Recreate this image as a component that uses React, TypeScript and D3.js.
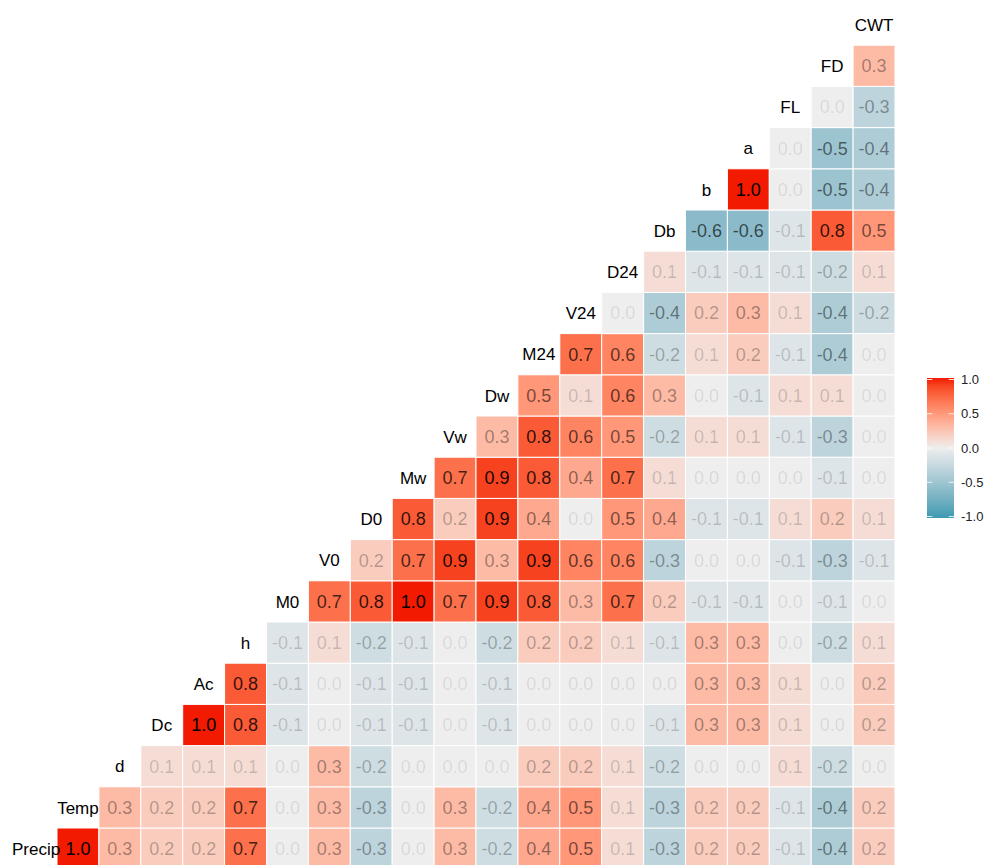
import { useEffect, useRef } from "react";
import * as d3 from "d3";

const variables = [
  "Precip", "Temp", "d", "Dc", "Ac", "h", "M0", "V0", "D0", "Mw", "Vw",
  "Dw", "M24", "V24", "D24", "Db", "b", "a", "FL", "FD", "CWT",
];

// row i: correlations of variables[i] with variables[i + 1], variables[i + 2], ...
const corrRows = [
  [1.0, 0.3, 0.2, 0.2, 0.7, 0.0, 0.3, -0.3, 0.0, 0.3, -0.2, 0.4, 0.5, 0.1, -0.3, 0.2, 0.2, -0.1, -0.4, 0.2],
  [0.3, 0.2, 0.2, 0.7, 0.0, 0.3, -0.3, 0.0, 0.3, -0.2, 0.4, 0.5, 0.1, -0.3, 0.2, 0.2, -0.1, -0.4, 0.2],
  [0.1, 0.1, 0.1, 0.0, 0.3, -0.2, 0.0, 0.0, 0.0, 0.2, 0.2, 0.1, -0.2, 0.0, 0.0, 0.1, -0.2, 0.0],
  [1.0, 0.8, -0.1, 0.0, -0.1, -0.1, 0.0, -0.1, 0.0, 0.0, 0.0, -0.1, 0.3, 0.3, 0.1, 0.0, 0.2],
  [0.8, -0.1, 0.0, -0.1, -0.1, 0.0, -0.1, 0.0, 0.0, 0.0, 0.0, 0.3, 0.3, 0.1, 0.0, 0.2],
  [-0.1, 0.1, -0.2, -0.1, 0.0, -0.2, 0.2, 0.2, 0.1, -0.1, 0.3, 0.3, 0.0, -0.2, 0.1],
  [0.7, 0.8, 1.0, 0.7, 0.9, 0.8, 0.3, 0.7, 0.2, -0.1, -0.1, 0.0, -0.1, 0.0],
  [0.2, 0.7, 0.9, 0.3, 0.9, 0.6, 0.6, -0.3, 0.0, 0.0, -0.1, -0.3, -0.1],
  [0.8, 0.2, 0.9, 0.4, 0.0, 0.5, 0.4, -0.1, -0.1, 0.1, 0.2, 0.1],
  [0.7, 0.9, 0.8, 0.4, 0.7, 0.1, 0.0, 0.0, 0.0, -0.1, 0.0],
  [0.3, 0.8, 0.6, 0.5, -0.2, 0.1, 0.1, -0.1, -0.3, 0.0],
  [0.5, 0.1, 0.6, 0.3, 0.0, -0.1, 0.1, 0.1, 0.0],
  [0.7, 0.6, -0.2, 0.1, 0.2, -0.1, -0.4, 0.0],
  [0.0, -0.4, 0.2, 0.3, 0.1, -0.4, -0.2],
  [0.1, -0.1, -0.1, -0.1, -0.2, 0.1],
  [-0.6, -0.6, -0.1, 0.8, 0.5],
  [1.0, 0.0, -0.5, -0.4],
  [0.0, -0.5, -0.4],
  [0.0, -0.3],
  [0.3],
];

const legendTicks = [1, 0.5, 0, -0.5, -1];

const width = 987;
const height = 865;
const panel = { left: 15.1, right: 895, top: 4, bottom: 869.2 };
const legendBox = { x: 927, y: 378, w: 27, h: 140 };
const font = "'Liberation Sans', Arial, Helvetica, sans-serif";

const CorrHeatmap = () => {
  const svgRef = useRef(null);

  useEffect(() => {
    document.body.style.margin = "0";
    const svg = d3.select(svgRef.current);
    svg.selectAll("*").remove();

    const x = d3.scaleBand().domain(variables).range([panel.left, panel.right]);
    const y = d3.scaleBand().domain(variables).range([panel.bottom, panel.top]);
    const color = d3
      .scaleLinear<string>()
      .domain([-1, 0, 1])
      .range(["#3B9AB2", "#EEEEEE", "#F21A00"])
      .interpolate(d3.interpolateLab);

    const cells = corrRows.flatMap((row, i) =>
      row.map((r, k) => ({ row: variables[i], col: variables[i + k + 1], r }))
    );

    svg
      .append("g")
      .selectAll("rect")
      .data(cells)
      .enter()
      .append("rect")
      .attr("x", (d) => x(d.col))
      .attr("y", (d) => y(d.row))
      .attr("width", x.bandwidth())
      .attr("height", y.bandwidth())
      .attr("fill", (d) => color(d.r))
      .attr("stroke", "white")
      .attr("stroke-width", 1);

    svg
      .append("g")
      .selectAll("text")
      .data(cells)
      .enter()
      .append("text")
      .attr("x", (d) => x(d.col) + x.bandwidth() / 2)
      .attr("y", (d) => y(d.row) + y.bandwidth() / 2)
      .attr("dy", "0.36em")
      .attr("text-anchor", "middle")
      .attr("fill", "black")
      .attr("fill-opacity", (d) => 0.1 + 0.9 * Math.abs(d.r))
      .style("font-family", font)
      .style("font-size", "18px")
      .text((d) => d.r.toFixed(1));

    // variable names on the diagonal
    svg
      .append("g")
      .selectAll("text")
      .data(variables)
      .enter()
      .append("text")
      .attr("x", (d) => x(d) + x.bandwidth() / 2)
      .attr("y", (d) => y(d) + y.bandwidth() / 2)
      .attr("dy", "0.36em")
      .attr("text-anchor", "middle")
      .attr("fill", "black")
      .style("font-family", font)
      .style("font-size", "17px")
      .text((d) => d);

    // colour bar
    const grad = svg
      .append("defs")
      .append("linearGradient")
      .attr("id", "corr-grad")
      .attr("x1", 0)
      .attr("y1", 1)
      .attr("x2", 0)
      .attr("y2", 0);
    d3.range(0, 1.0001, 0.05).forEach((t) => {
      grad
        .append("stop")
        .attr("offset", t)
        .attr("stop-color", color(-1 + 2 * t));
    });

    const legY = d3
      .scaleLinear()
      .domain([-1, 1])
      .range([legendBox.y + legendBox.h - 1.5, legendBox.y + 1.5]);

    const leg = svg.append("g");
    leg
      .append("rect")
      .attr("x", legendBox.x)
      .attr("y", legendBox.y)
      .attr("width", legendBox.w)
      .attr("height", legendBox.h)
      .attr("fill", "url(#corr-grad)");

    const tickLen = legendBox.w / 5;
    leg
      .selectAll("g.tick")
      .data(legendTicks)
      .enter()
      .append("g")
      .attr("class", "tick")
      .each(function (d) {
        const g = d3.select(this);
        g.append("line")
          .attr("x1", legendBox.x)
          .attr("x2", legendBox.x + tickLen)
          .attr("y1", legY(d))
          .attr("y2", legY(d))
          .attr("stroke", "white")
          .attr("stroke-opacity", 0.8);
        g.append("line")
          .attr("x1", legendBox.x + legendBox.w - tickLen)
          .attr("x2", legendBox.x + legendBox.w)
          .attr("y1", legY(d))
          .attr("y2", legY(d))
          .attr("stroke", "white")
          .attr("stroke-opacity", 0.8);
        g.append("text")
          .attr("x", legendBox.x + legendBox.w + 7)
          .attr("y", legY(d))
          .attr("dy", "0.36em")
          .attr("fill", "#222")
          .style("font-family", font)
          .style("font-size", "13px")
          .text(d.toFixed(1));
      });
  }, []);

  return <svg ref={svgRef} width={width} height={height} style={{ display: "block" }}></svg>;
};

export default function App() {
  return <CorrHeatmap />;
}
